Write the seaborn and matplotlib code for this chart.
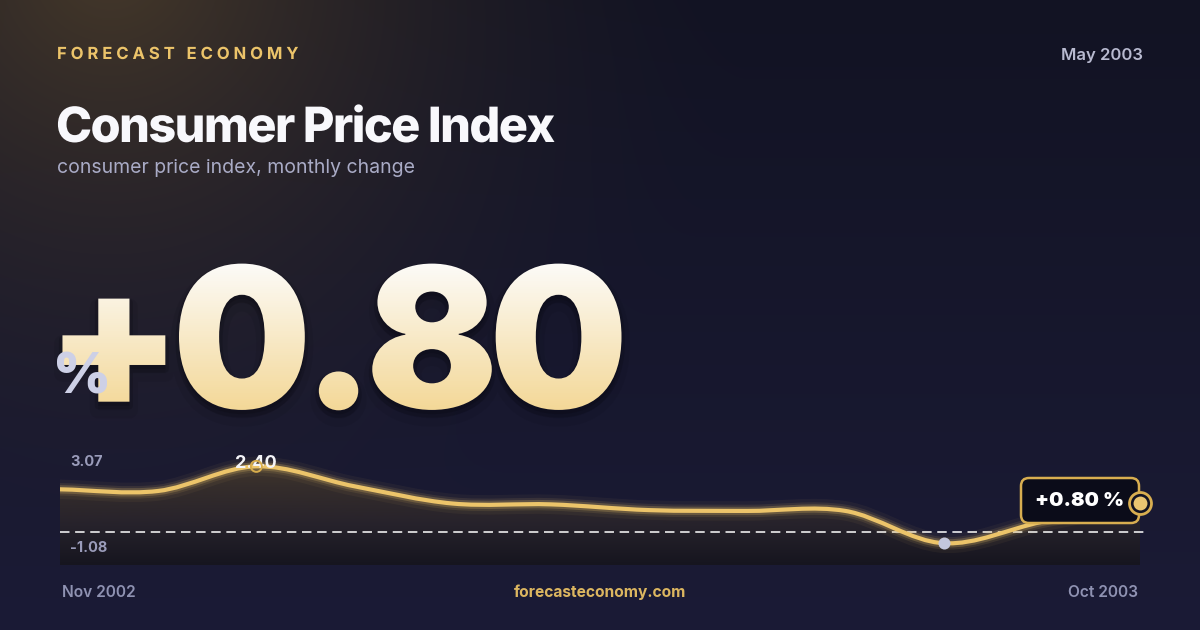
import numpy as np
import matplotlib
matplotlib.use("Agg")
import matplotlib.pyplot as plt
import matplotlib.colors as mcolors
import matplotlib.patheffects as pe
import seaborn as sns
from matplotlib.path import Path
from matplotlib.patches import PathPatch, FancyBboxPatch
from matplotlib.transforms import Affine2D, Bbox

# data
months = ["Nov 2002", "Dec 2002", "Jan 2003", "Feb 2003", "Mar 2003", "Apr 2003",
          "May 2003", "Jun 2003", "Jul 2003", "Aug 2003", "Sep 2003", "Oct 2003"]
cpi_change = [1.56, 1.50, 2.40, 1.67, 1.04, 1.01, 0.80, 0.77, 0.77, -0.41, 0.37, 1.05]
headline_value = 0.80
headline_month = "May 2003"
axis_lo, axis_hi = -1.08, 3.07

W, H = 1200, 630
GOLD = "#ecc46a"
MUTED = "#9a9cba"


class Tracking(pe.AbstractPathEffect):
    """letter-spacing for a single line of text"""

    def __init__(self, s, px):
        super().__init__()
        self.s = s
        self.px = px

    def draw_path(self, renderer, gc, tpath, affine, rgbFace=None):
        v = affine.transform(tpath.vertices)
        codes = tpath.codes
        starts = np.flatnonzero(codes == Path.MOVETO)
        ends = list(starts[1:]) + [len(codes)]
        cont = []
        for a, b in zip(starts, ends):
            ok = codes[a:b] != Path.CLOSEPOLY
            cont.append((a, b, v[a:b][ok, 0].min(), v[a:b][ok, 0].max()))
        order = sorted(range(len(cont)), key=lambda k: cont[k][2])
        glyph_of = {}
        gi, right = -1, -np.inf
        for k in order:
            if cont[k][2] > right:
                gi += 1
                right = cont[k][3]
            else:
                right = max(right, cont[k][3])
            glyph_of[k] = gi
        char_idx = [i for i, c in enumerate(self.s) if c != " "]
        nv = v.copy()
        for k, (a, b, _, _) in enumerate(cont):
            g = glyph_of[k]
            n = char_idx[g] if gi + 1 == len(char_idx) else g
            nv[a:b, 0] += n * self.px
        renderer.draw_path(gc, Path(nv, codes), Affine2D(), rgbFace)


class VGradient(pe.AbstractPathEffect):
    """vertical colour gradient fill for text"""

    def __init__(self, top, bottom, step=2):
        super().__init__()
        self.top = np.array(mcolors.to_rgb(top))
        self.bottom = np.array(mcolors.to_rgb(bottom))
        self.step = step

    def draw_path(self, renderer, gc, tpath, affine, rgbFace=None):
        keep = tpath.codes != Path.CLOSEPOLY
        pts = affine.transform(tpath.vertices[keep])
        y0, y1 = np.floor(pts[:, 1].min()), np.ceil(pts[:, 1].max())
        for ya in np.arange(y0, y1, self.step):
            t = 1 - (ya + self.step / 2 - y0) / (y1 - y0)
            g = renderer.new_gc()
            g.copy_properties(gc)
            g.set_clip_rectangle(Bbox([[0, ya], [1e4, ya + self.step]]))
            renderer.draw_path(g, tpath, affine, tuple(self.top * (1 - t) + self.bottom * t))
            g.restore()


class Chain(pe.AbstractPathEffect):
    """apply tracking first, then hand the shifted path to other effects"""

    def __init__(self, tracking, effects):
        super().__init__()
        self.tracking = tracking
        self.effects = effects

    def draw_path(self, renderer, gc, tpath, affine, rgbFace=None):
        class Grab:
            pass
        grab = Grab()

        def keep(gc_, path, tr, face=None):
            grab.path = path
        grab.draw_path = keep
        self.tracking.draw_path(grab, gc, tpath, affine, rgbFace)
        for eff in self.effects:
            eff.draw_path(renderer, gc, grab.path, Affine2D(), rgbFace)


sns.set_theme(style="dark")
plt.rcParams["font.family"] = ["Inter", "DejaVu Sans"]

fig = plt.figure(figsize=(W / 100, H / 100), dpi=100)

# background: dark navy with a warm glow in the top-left corner
bg = fig.add_axes([0, 0, 1, 1])
yy, xx = np.mgrid[0:H, 0:W]
top_c = np.array([18, 19, 35])
bot_c = np.array([27, 27, 54])
base = top_c + (bot_c - top_c) * (yy / H)[..., None]
glow = np.clip(1 - np.hypot(xx - 110, yy + 40) / 650, 0, 1) ** 1.8
warm = np.array([70, 57, 42])
img = base * (1 - glow[..., None]) + warm * glow[..., None]
bg.imshow(img / 255, extent=[0, W, H, 0], aspect="auto")
bg.set_xlim(0, W)
bg.set_ylim(H, 0)
bg.set_axis_off()

# header
bg.text(57, 59, "FORECAST ECONOMY", fontsize=12, fontweight="bold", color=GOLD,
        path_effects=[Tracking("FORECAST ECONOMY", 3.9)])
bg.text(1143, 60, headline_month, fontsize=12, fontweight="semibold", color="#b8bad0", ha="right")
bg.text(56, 142, "Consumer Price Index", fontsize=35, fontweight="heavy", color="#f8f8fc",
        path_effects=[Tracking("Consumer Price Index", -1.6)])
bg.text(57, 173, "consumer price index, monthly change", fontsize=14, color="#a9abc6")

# big headline number
big = f"{headline_value:+.2f}"
bg.text(46, 408, big, fontsize=141, fontweight="black", color="#05050b",
        path_effects=[Chain(Tracking(big, -9.5), [
            pe.Stroke(offset=(0, -6), linewidth=12, foreground="#05050b", alpha=0.08),
            pe.Stroke(offset=(0, -3), linewidth=5, foreground="#05050b", alpha=0.18),
            VGradient("#fcfbf8", "#f3d796")])])
bg.text(53, 393, "%", fontsize=40, fontweight="black", color="#cdd0e6")

# sparkline panel
top_px, zero_px, bot_px = 448, 532, 565
ppu = (zero_px - top_px) / axis_hi
y_bottom = -(bot_px - zero_px) / ppu
ax = fig.add_axes([60 / W, 1 - bot_px / H, 1080 / W, (bot_px - top_px) / H])

xs = np.arange(len(cpi_change), dtype=float)
ys = np.asarray(cpi_change)
tan = np.gradient(ys)
verts = [(xs[0], ys[0])]
codes = [Path.MOVETO]
for i in range(len(xs) - 1):
    verts += [(xs[i] + 1 / 3, ys[i] + tan[i] / 3),
              (xs[i + 1] - 1 / 3, ys[i + 1] - tan[i + 1] / 3),
              (xs[i + 1], ys[i + 1])]
    codes += [Path.CURVE4] * 3
curve = Path(verts, codes)
area = Path(verts + [(xs[-1], y_bottom), (xs[0], y_bottom), (xs[0], ys[0])],
            codes + [Path.LINETO, Path.LINETO, Path.CLOSEPOLY])

fill_cmap = mcolors.LinearSegmentedColormap.from_list(
    "fill", ["#4a3e30", "#352d2b", "#26222b", "#16151f"])
im = ax.imshow(np.linspace(0, 1, 256)[:, None], cmap=fill_cmap, aspect="auto",
               extent=[xs[0], xs[-1], y_bottom, axis_hi], zorder=1)
area_patch = PathPatch(area, fc="none", ec="none")
ax.add_patch(area_patch)
im.set_clip_path(area_patch)

ax.plot([xs[0], xs[-1] + 0.05], [0, 0], color="white", lw=1.1, dashes=(6.2, 3.7),
        clip_on=False, zorder=2)

for lw, a in [(14, 0.05), (9, 0.10), (6, 0.22)]:
    ax.add_patch(PathPatch(curve, fc="none", ec=GOLD, lw=lw, alpha=a,
                           capstyle="round", joinstyle="round", zorder=3))
ax.add_patch(PathPatch(curve, fc="none", ec=GOLD, lw=3, capstyle="round", zorder=4))

imax, imin = int(np.argmax(ys)), int(np.argmin(ys))
ax.annotate(f"{ys[imax]:.2f}", xy=(xs[imax], ys[imax]), xytext=(0, -1.5),
            textcoords="offset points", ha="center", va="baseline",
            fontsize=13, fontweight="bold", color="#f4f4f8", zorder=5)
sns.scatterplot(x=[xs[imax]], y=[ys[imax]], ax=ax, s=63, facecolor="none",
                edgecolor="#d8ad4c", linewidth=1.4, zorder=6, clip_on=False)
sns.scatterplot(x=[xs[imin]], y=[ys[imin]], ax=ax, s=75, color="#c3c6dc",
                linewidth=0, zorder=6, clip_on=False)

# badge for the latest value
badge = FancyBboxPatch((1021, 478), 118, 45, boxstyle="round,pad=0,rounding_size=8",
                       fc="#0b0c19", ec="#d8ae50", lw=1.8, transform=bg.transData,
                       clip_on=False, zorder=7)
ax.add_patch(badge)
ax.text(1080, 506, f"{headline_value:+.2f} %", transform=bg.transData, ha="center",
        va="baseline", fontsize=14.5, fontweight="black", color="white", zorder=8)
sns.scatterplot(x=[xs[-1]], y=[ys[-1]], ax=ax, s=250, facecolor="#121322",
                edgecolor="#d8ae50", linewidth=2, zorder=9, clip_on=False)
sns.scatterplot(x=[xs[-1]], y=[ys[-1]], ax=ax, s=100, color="#e9c571",
                linewidth=0, zorder=10, clip_on=False)

ax.text(70, 466, f"{axis_hi:.2f}", transform=bg.transData, fontsize=10.5,
        fontweight="bold", color=MUTED, zorder=8)
ax.text(70, 552.5, f"{axis_lo:.2f}", transform=bg.transData, fontsize=10.5,
        fontweight="bold", color=MUTED, zorder=8)

ax.set_xlim(xs[0], xs[-1])
ax.set_ylim(y_bottom, axis_hi)
ax.set_axis_off()

# footer
bg.text(62, 597, months[0], fontsize=11.2, fontweight="semibold", color="#8f92b2")
bg.text(600, 597, "forecasteconomy.com", fontsize=11.2, fontweight="bold",
        color="#dcb660", ha="center")
bg.text(1138, 597, months[-1], fontsize=11.2, fontweight="semibold", color="#8f92b2",
        ha="right")

fig.savefig("out.png", dpi=100, facecolor=fig.get_facecolor())
